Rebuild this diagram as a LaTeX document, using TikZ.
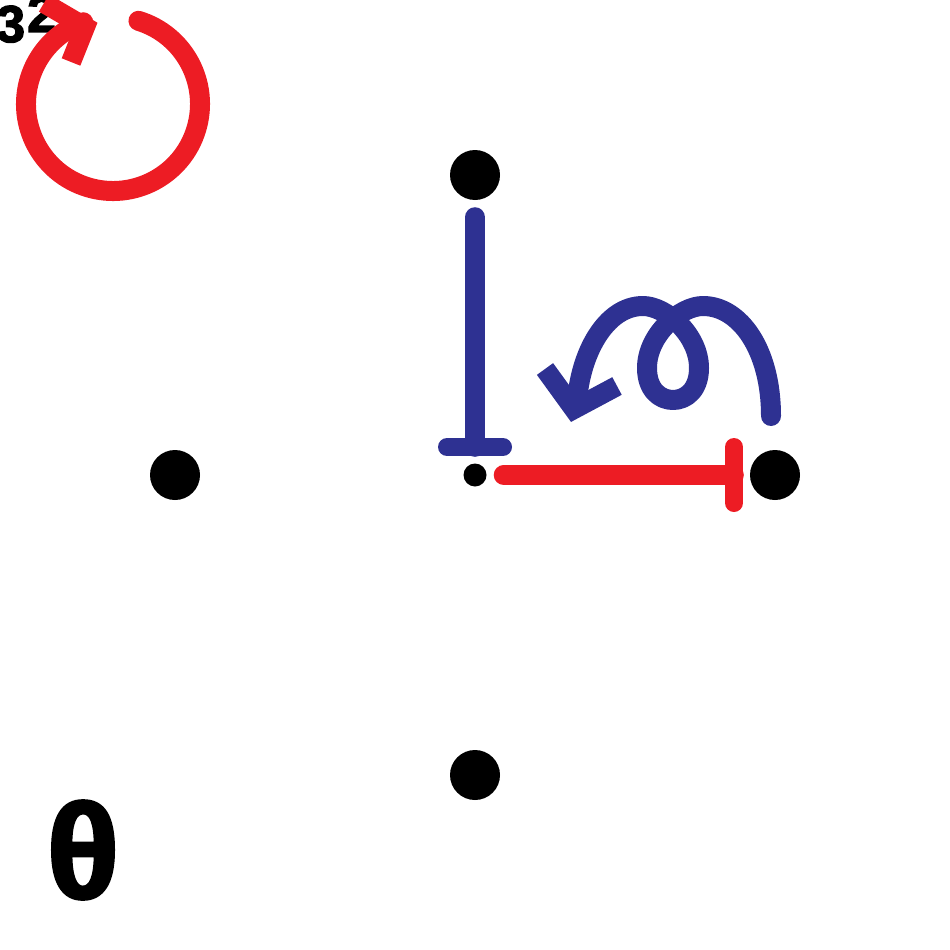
\documentclass[tikz,border=0pt]{standalone}
\usepackage{fontspec}
\newfontfamily\labelfont[FakeBold=2.5]{Liberation Sans Bold}
\usepackage{tikz}
\usetikzlibrary{calc}
\definecolor{markred}{RGB}{237,28,36}
\definecolor{markblue}{RGB}{46,49,146}

\begin{document}
\begin{tikzpicture}[
  x=1pt, y=-1pt,
  dot/.style={circle, fill=black, minimum size=50pt, inner sep=0pt},
  origin/.style={circle, fill=black, minimum size=23pt, inner sep=0pt},
  stroke/.style={line width=20pt, line cap=round, line join=round},
  barb/.style={line width=20pt, line cap=butt, line join=miter},
  tee/.style={line width=18pt, line cap=round},
  lbl/.style={inner sep=0pt, text=black}
]
  \useasboundingbox (0,0) rectangle (950,950);

  \node[dot] (n) at (475,175) {};
  \node[dot] (w) at (175,475) {};
  \node[dot] (e) at (775,475) {};
  \node[dot] (s) at (475,775) {};
  \node[origin] (o) at (475,475) {};

  \node[lbl, anchor=base west, font=\labelfont\fontsize{52}{52}\selectfont] (three) at (-4,42) {3\hspace{2pt}\raisebox{10pt}{2}};
  \node[lbl, font=\labelfont\fontsize{134}{134}\selectfont] (theta) at (83,850) {θ};

  \draw[stroke, markblue, shorten <=17pt, shorten >=16.5pt] (n) -- (o);
  \coordinate (bt) at ($(o)+(0,-28)$);
  \draw[tee, markblue] ($(bt)+(-28,0)$) -- ($(bt)+(28,0)$);

  \draw[stroke, markred, shorten <=17pt, shorten >=16pt] (o) -- (e);
  \coordinate (rt) at ($(e)+(-41,0)$);
  \draw[tee, markred] ($(rt)+(0,-28)$) -- ($(rt)+(0,28)$);

  \draw[stroke, markblue] (771,416) .. controls (771,350) and (740,306) .. (703,306)
    .. controls (680,306) and (647,335) .. (647,368)
    .. controls (647,390) and (660,400) .. (673,400)
    .. controls (686,400) and (699,390) .. (699,368)
    .. controls (699,335) and (666,306) .. (643,306)
    .. controls (605,306) and (580,355) .. (577,402);
  \draw[barb, markblue] (545,369) -- (574,409) -- (617,386);

  \draw[stroke, markred] (113,104) ++(-73:87) arc[start angle=-73, end angle=250, radius=87];
  \draw[barb, markred] (44,3) -- (85,27) -- (71,62);
\end{tikzpicture}
\end{document}
